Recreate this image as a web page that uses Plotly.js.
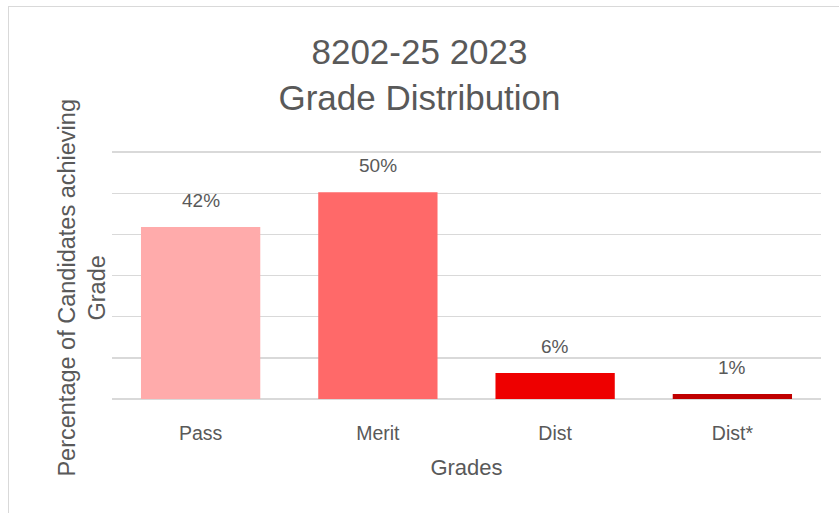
<!DOCTYPE html>
<html>
<head>
<meta charset="utf-8">
<script src="https://cdn.plot.ly/plotly-3.0.1.min.js"></script>
<style>
  html, body { margin: 0; padding: 0; background: #ffffff; }
  #wrap { position: relative; width: 839px; height: 513px; overflow: hidden; }
  #frame { position: absolute; left: 8px; top: 6px; width: 900px; height: 600px;
           border: 1.5px solid #d9d9d9; box-sizing: border-box; }
  #chart { position: absolute; left: 0; top: 0; width: 839px; height: 513px; }
</style>
</head>
<body>
<div id="wrap">
  <div id="frame"></div>
  <div id="chart"></div>
</div>
<script>
// Data
const categories = ["Pass", "Merit", "Dist", "Dist*"];
const percentages = [41.8, 50.3, 6.3, 1.2];
const barColors = ["#FFABAB", "#FF6969", "#EE0000", "#C00000"];
const chartTitle = "8202-25 2023<br>Grade Distribution";
const xTitle = "Grades";
const yTitle = "Percentage of Candidates achieving<br>Grade";

const FONT = "Liberation Sans, Arial, sans-serif";
const TXT = "#595959";

const trace = {
  type: "bar",
  x: categories,
  y: percentages,
  marker: { color: barColors },
  hoverinfo: "skip"
};

const annotations = categories.map((c, i) => ({
  x: c,
  y: percentages[i],
  xref: "x",
  yref: "y",
  text: Math.round(percentages[i]) + "%",
  showarrow: false,
  yanchor: "bottom",
  yshift: 14,
  font: { family: FONT, size: 19, color: TXT }
}));

// y-axis title, placed as a rotated annotation to match the reference position
annotations.push({
  text: yTitle,
  xref: "paper",
  yref: "paper",
  x: 0.001,
  y: 0.45,
  xanchor: "right",
  yanchor: "middle",
  textangle: -90,
  showarrow: false,
  align: "center",
  font: { family: FONT, size: 23.5, color: TXT }
});

const layout = {
  width: 839,
  height: 513,
  paper_bgcolor: "rgba(0,0,0,0)",
  plot_bgcolor: "rgba(0,0,0,0)",
  margin: { l: 112, r: 18, t: 151, b: 114 },
  bargap: 0.327,
  showlegend: false,
  font: { family: FONT, color: TXT },
  title: {
    text: chartTitle,
    font: { family: FONT, size: 35, color: TXT },
    x: 0.5,
    xanchor: "center",
    y: 0.875,
    yanchor: "top"
  },
  xaxis: {
    type: "category",
    showgrid: false,
    zeroline: false,
    showline: false,
    ticks: "",
    ticklabelstandoff: 20,
    tickfont: { family: FONT, size: 19.5, color: TXT },
    title: { text: xTitle, font: { family: FONT, size: 22, color: TXT } }
  },
  yaxis: {
    range: [0, 60.3],
    tickvals: [0, 10, 20, 30, 40, 50, 60],
    showgrid: true,
    gridcolor: "#d9d9d9",
    gridwidth: 1.5,
    zeroline: true,
    zerolinecolor: "#d9d9d9",
    zerolinewidth: 1.5,
    showticklabels: false,
    ticks: ""
  },
  annotations: annotations
};

Plotly.newPlot("chart", [trace], layout, { displayModeBar: false, staticPlot: true });
</script>
</body>
</html>
